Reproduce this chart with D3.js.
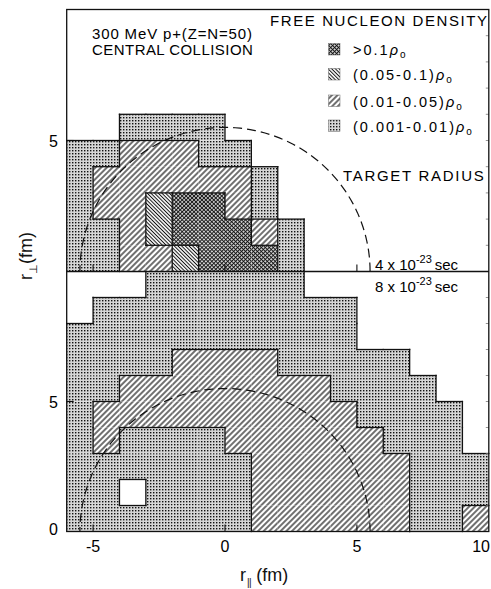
<!DOCTYPE html>
<html><head><meta charset="utf-8">
<script src="https://cdn.jsdelivr.net/npm/d3@7"></script>
<style>
html,body{margin:0;padding:0;background:#fff;}
svg{display:block;font-family:"Liberation Sans",Arial,Helvetica,sans-serif;}
</style></head><body>
<svg id="chart" width="491" height="589"></svg>
<script>
// ---- data ----
// left edges of the 1-fm cells along r_parallel (fm)
const rParCells = [-6,-5,-4,-3,-2,-1,0,1,2,3,4,5,6,7,8,9];
// lower edges of the 1-fm cells along r_perp (fm), bottom row first
const rPerpCells = [0,1,2,3,4,5,6,7,8,9];
// density class codes: 0 none, 1 (0.001-0.01), 2 (0.01-0.05), 3 (0.05-0.1), 4 >0.1
const density4 = [ // t = 4e-23 sec, rows r_perp 0..9
  [1,1,2,2,3,4,4,4,1,0,0,0,0,0,0,0],
  [1,1,2,3,4,4,4,2,1,0,0,0,0,0,0,0],
  [1,2,2,3,4,4,2,1,0,0,0,0,0,0,0,0],
  [1,2,2,2,2,2,2,1,0,0,0,0,0,0,0,0],
  [1,1,2,2,2,1,1,0,0,0,0,0,0,0,0,0],
  [0,0,1,1,1,1,0,0,0,0,0,0,0,0,0,0],
  [0,0,0,0,0,0,0,0,0,0,0,0,0,0,0,0],
  [0,0,0,0,0,0,0,0,0,0,0,0,0,0,0,0],
  [0,0,0,0,0,0,0,0,0,0,0,0,0,0,0,0],
  [0,0,0,0,0,0,0,0,0,0,0,0,0,0,0,0]
];
const density8 = [ // t = 8e-23 sec, rows r_perp 0..9
  [1,1,1,1,1,1,1,2,2,2,2,2,2,1,1,2],
  [1,1,0,1,1,1,1,2,2,2,2,2,2,1,1,1],
  [1,1,1,1,1,1,1,2,2,2,2,2,2,1,1,1],
  [1,2,1,1,1,1,2,2,2,2,2,2,1,1,1,0],
  [1,2,2,2,2,2,2,2,2,2,2,1,1,1,1,0],
  [1,1,2,2,2,2,2,2,2,2,1,1,1,1,0,0],
  [1,1,1,1,2,2,2,2,1,1,1,1,1,0,0,0],
  [1,1,1,1,1,1,1,1,1,1,1,0,0,0,0,0],
  [0,1,1,1,1,1,1,1,1,1,1,0,0,0,0,0],
  [0,0,0,1,1,1,1,1,1,0,0,0,0,0,0,0]
];
const legendCodes = [4,3,2,1];
const legendLabels = [">0.1", "(0.05-0.1)", "(0.01-0.05)", "(0.001-0.01)"];
const timeLabels = ["4", "8"];          // x 10^-23 sec
const xTickValues = [-5,0,5,10];
const xTickLabels = ["-5","0","5","10"];
const yTickValues = [5];
const targetRadius = 5.5;               // fm
const xDomain = [-6,10];
const yDomain = [0,10];

// ---- layout ----
const svg = d3.select("#chart");
const x = d3.scaleLinear().domain(xDomain).range([66.7, 488.8]);
const yTop = d3.scaleLinear().domain(yDomain).range([271.5, 9.5]);
const yBot = d3.scaleLinear().domain(yDomain).range([531.5, 271.5]);
const panels = [
  {grid: density4, y: yTop, time: timeLabels[0]},
  {grid: density8, y: yBot, time: timeLabels[1]}
];

// ---- patterns ----
const defs = svg.append("defs");
function pat(id, size, rot) {
  const p = defs.append("pattern").attr("id", id)
    .attr("patternUnits", "userSpaceOnUse")
    .attr("width", size).attr("height", size);
  if (rot) p.attr("patternTransform", `rotate(${rot})`);
  return p;
}
let p1 = pat("pat1", 3, 0);
p1.append("rect").attr("width", 3).attr("height", 3).attr("fill", "#d6d6d6");
p1.append("rect").attr("width", 1.4).attr("height", 1.4).attr("fill", "#111");
let p2 = pat("pat2", 4, 45);
p2.append("rect").attr("width", 4).attr("height", 4).attr("fill", "#fff");
p2.append("line").attr("x1", 2).attr("x2", 2).attr("y1", 0).attr("y2", 4)
  .attr("stroke", "#111").attr("stroke-width", 1.2);
let p3 = pat("pat3", 2.6, -45);
p3.append("rect").attr("width", 2.6).attr("height", 2.6).attr("fill", "#fff");
p3.append("line").attr("x1", 1.3).attr("x2", 1.3).attr("y1", 0).attr("y2", 2.6)
  .attr("stroke", "#111").attr("stroke-width", 1.0);
let p4 = pat("pat4", 2.8, 45);
p4.append("rect").attr("width", 2.8).attr("height", 2.8).attr("fill", "#d0d0d0");
p4.append("line").attr("x1", 1.4).attr("x2", 1.4).attr("y1", 0).attr("y2", 2.8)
  .attr("stroke", "#111").attr("stroke-width", 0.9);
p4.append("line").attr("y1", 1.4).attr("y2", 1.4).attr("x1", 0).attr("x2", 2.8)
  .attr("stroke", "#111").attr("stroke-width", 0.9);

// ---- cells ----
panels.forEach(pn => {
  const g = svg.append("g");
  const cells = [];
  pn.grid.forEach((row, j) => row.forEach((c, i) => {
    if (c > 0) cells.push({r0: rParCells[i], p0: rPerpCells[j], c});
  }));
  g.selectAll("rect").data(cells).join("rect")
    .attr("x", d => x(d.r0))
    .attr("y", d => pn.y(d.p0 + 1))
    .attr("width", d => x(d.r0 + 1) - x(d.r0))
    .attr("height", d => pn.y(d.p0) - pn.y(d.p0 + 1))
    .attr("fill", d => `url(#pat${d.c})`);
  // boundaries between different density classes
  const edges = [];
  pn.grid.forEach((row, j) => row.forEach((c, i) => {
    if (i + 1 < row.length && row[i + 1] !== c)
      edges.push({x1: rParCells[i] + 1, x2: rParCells[i] + 1, y1: rPerpCells[j], y2: rPerpCells[j] + 1});
    if (j + 1 < pn.grid.length && pn.grid[j + 1][i] !== c)
      edges.push({x1: rParCells[i], x2: rParCells[i] + 1, y1: rPerpCells[j] + 1, y2: rPerpCells[j] + 1});
  }));
  g.selectAll("line").data(edges).join("line")
    .attr("x1", d => x(d.x1)).attr("x2", d => x(d.x2))
    .attr("y1", d => pn.y(d.y1)).attr("y2", d => pn.y(d.y2))
    .attr("stroke", "#111").attr("stroke-width", 1.3).attr("stroke-linecap", "square");

  // target radius (dashed)
  const ang = d3.range(0, 180.5, 2).map(a => a * Math.PI / 180);
  g.append("path")
    .attr("d", d3.line().x(a => x(targetRadius * Math.cos(a))).y(a => pn.y(targetRadius * Math.sin(a)))(ang))
    .attr("fill", "none").attr("stroke", "#111").attr("stroke-width", 1.2)
    .attr("stroke-dasharray", "9,5");

  // ticks on bottom edge (inward)
  g.selectAll(".xt").data(xTickValues.slice(0, 3)).join("line")
    .attr("x1", d => x(d)).attr("x2", d => x(d))
    .attr("y1", pn.y(0)).attr("y2", pn.y(0) - 7)
    .attr("stroke", "#111").attr("stroke-width", 1.1);
  // left ticks
  g.selectAll(".yt").data(yTickValues).join("line")
    .attr("x1", x(xDomain[0])).attr("x2", x(xDomain[0]) + 7)
    .attr("y1", d => pn.y(d)).attr("y2", d => pn.y(d))
    .attr("stroke", "#111").attr("stroke-width", 1.1);
  // right minor ticks
  g.selectAll(".rt").data(rPerpCells.slice(1)).join("line")
    .attr("x1", x(xDomain[1])).attr("x2", x(xDomain[1]) - 3)
    .attr("y1", d => pn.y(d)).attr("y2", d => pn.y(d))
    .attr("stroke", "#777").attr("stroke-width", 0.8);
  // y tick labels
  g.selectAll(".yl").data(yTickValues).join("text")
    .attr("x", 58).attr("y", d => pn.y(d) + 6)
    .attr("text-anchor", "end").attr("font-size", 16).text(d => d);
});
svg.append("text").attr("x", 58).attr("y", yBot(0) + 3)
  .attr("text-anchor", "end").attr("font-size", 16).text("0");

// frame and divider
svg.append("rect").attr("x", x(xDomain[0])).attr("y", yTop(yDomain[1]))
  .attr("width", x(xDomain[1]) - x(xDomain[0])).attr("height", yBot(0) - yTop(yDomain[1]))
  .attr("fill", "none").attr("stroke", "#111").attr("stroke-width", 1.3);
svg.append("line").attr("x1", x(xDomain[0])).attr("x2", x(xDomain[1]))
  .attr("y1", yTop(0)).attr("y2", yTop(0)).attr("stroke", "#111").attr("stroke-width", 1.5);

// x tick labels (last one kept inside the picture edge)
svg.selectAll(".xl").data(xTickValues).join("text")
  .attr("x", (d, i) => i === xTickValues.length - 1 ? 490 : x(d)).attr("y", 552)
  .attr("text-anchor", (d, i) => i === xTickValues.length - 1 ? "end" : "middle")
  .attr("font-size", 16).text((d, i) => xTickLabels[i]);

// axis titles
const xt = svg.append("text").attr("x", 240).attr("y", 581).attr("font-size", 18).attr("fill", "#111");
xt.append("tspan").text("r");
xt.append("tspan").attr("font-size", 10).attr("dy", 5).attr("dx", 1)
  .attr("letter-spacing", -0.5).text("||");
xt.append("tspan").attr("dy", -5).text(" (fm)");
const yt = svg.append("text").attr("transform", "translate(32,256) rotate(-90)")
  .attr("text-anchor", "middle").attr("font-size", 18).attr("fill", "#111");
yt.append("tspan").text("r");
yt.append("tspan").attr("font-size", 11).attr("dy", 5).text("⊥");
yt.append("tspan").attr("dy", -5).text("(fm)");

// annotations
svg.append("text").attr("x", 92).attr("y", 38.5).attr("font-size", 15)
  .attr("letter-spacing", 0.85).text("300 MeV p+(Z=N=50)");
svg.append("text").attr("x", 92).attr("y", 55).attr("font-size", 15)
  .attr("letter-spacing", 0.45).text("CENTRAL COLLISION");
svg.append("text").attr("x", 270).attr("y", 26).attr("font-size", 15)
  .attr("letter-spacing", 1.6).text("FREE NUCLEON DENSITY");
svg.append("text").attr("x", 343).attr("y", 181).attr("font-size", 15)
  .attr("letter-spacing", 1.7).text("TARGET RADIUS");

// legend
const lg = svg.append("g");
const lgY = [55, 80, 106.5, 131.5];
lg.selectAll("rect").data(legendCodes).join("rect")
  .attr("x", 328.5).attr("y", (d, i) => lgY[i] - 11.5)
  .attr("width", 11.5).attr("height", 11.5)
  .attr("fill", d => `url(#pat${d})`).attr("stroke", "#666").attr("stroke-width", 0.5);
lg.selectAll("text").data(legendLabels).join("text")
  .attr("x", 353).attr("y", (d, i) => lgY[i]).attr("font-size", 14.5)
  .attr("letter-spacing", 2.0)
  .each(function(d) {
    const t = d3.select(this);
    t.append("tspan").text(d);
    t.append("tspan").attr("font-style", "italic").text("ρ");
    t.append("tspan").attr("font-size", 10).attr("dy", 3).text("o");
  });

// time labels
[[timeLabels[0], 270], [timeLabels[1], 292]].forEach(([v, yy]) => {
  const t = svg.append("text").attr("x", 375).attr("y", yy).attr("font-size", 15);
  t.append("tspan").text(v + " x 10");
  t.append("tspan").attr("font-size", 11).attr("dy", -7).text("-23");
  t.append("tspan").attr("dy", 7).attr("dx", 3).text("sec");
});
</script>
</body></html>
